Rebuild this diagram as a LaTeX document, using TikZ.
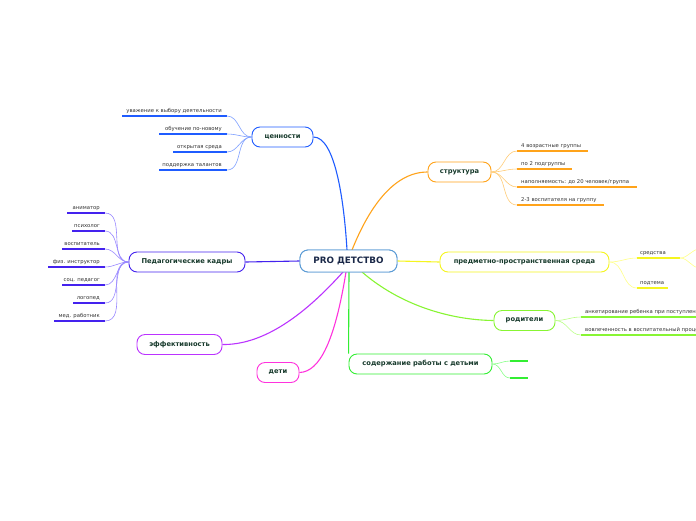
\documentclass[tikz,border=0pt]{standalone}
\usepackage{fontspec}
\setmainfont{DejaVu Sans}
\definecolor{nodetxt}{HTML}{173A2C}
\definecolor{centtxt}{HTML}{1A2848}
\definecolor{leaftxt}{HTML}{333333}
\definecolor{ccent}{HTML}{5B9BD5}
\definecolor{cval}{HTML}{1F5CFF}
\definecolor{cvalL}{HTML}{7FA0FF}
\definecolor{cstr}{HTML}{FFA31A}
\definecolor{cstrL}{HTML}{FFCC77}
\definecolor{cenv}{HTML}{F5F51F}
\definecolor{cenvL}{HTML}{FFFF88}
\definecolor{cpar}{HTML}{88F533}
\definecolor{cparL}{HTML}{BBFF88}
\definecolor{ccon}{HTML}{33EE33}
\definecolor{cconL}{HTML}{88FF88}
\definecolor{ckid}{HTML}{FF33DD}
\definecolor{ceff}{HTML}{BB33FF}
\definecolor{cped}{HTML}{4422EE}
\definecolor{cpedL}{HTML}{9988FF}
\begin{document}
\begin{tikzpicture}[x=1pt,y=-1pt,
  mainbox/.style={draw, rounded corners=8pt, line width=0.9pt, fill=white,
    font=\bfseries\fontsize{6.7}{8}\selectfont, text=nodetxt, minimum height=20pt, inner sep=0pt},
  leaftext/.style={font=\fontsize{5.3}{6}\selectfont, text=leaftxt, inner sep=0pt},
  branch/.style={line width=1.1pt},
  twig/.style={line width=0.6pt},
  uline/.style={line width=1.6pt}]
\useasboundingbox (0,0) rectangle (696,520);
\clip (0,0) rectangle (696,520);
\fill[white] (0,0) rectangle (696,520);

% main nodes
\node[mainbox, draw=ccent, text=centtxt, minimum width=97pt, minimum height=22pt,
  font=\bfseries\fontsize{8.8}{10}\selectfont] (cen) at (348.5,261) {PRO ДЕТСТВО};
\node[mainbox, draw=cval, minimum width=61pt] (val) at (282.5,137) {ценности};
\node[mainbox, draw=cstr, minimum width=63pt] (str) at (459.5,172) {структура};
\node[mainbox, draw=cenv, minimum width=169pt] (env) at (524.5,262) {предметно-пространственная среда};
\node[mainbox, draw=cpar, minimum width=61pt] (par) at (524.5,320.5) {родители};
\node[mainbox, draw=ccon, minimum width=143pt] (con) at (420.5,364) {содержание работы с детьми};
\node[mainbox, draw=ckid, minimum width=42pt] (kid) at (278,372.5) {дети};
\node[mainbox, draw=ceff, minimum width=85pt] (eff) at (179.5,344.5) {эффективность};
\node[mainbox, draw=cped, minimum width=116pt] (ped) at (187,262) {Педагогические кадры};

% main connectors
\coordinate (cvalS) at (347,250);
\coordinate (cstrS) at (352,250);
\coordinate (cparS) at (362,272);
\coordinate (cconS) at (349,272);
\coordinate (ckidS) at (346,272);
\coordinate (ceffS) at (343,272);
\draw[branch, cval] (cvalS) .. controls (344,200) and (335,137) .. (val.east);
\draw[branch, cstr] (cstrS) .. controls (370,205) and (395,172) .. (str.west);
\draw[branch, cenv] (cen.east) -- (env.west);
\draw[branch, cpar] (cparS) .. controls (400,305) and (450,320) .. (par.west);
\draw[branch, ccon] (cconS) -- (con.north west);
\draw[branch, ckid] (ckidS) .. controls (335,340) and (320,372) .. (kid.east);
\draw[branch, ceff] (ceffS) .. controls (300,320) and (260,345) .. (eff.east);
\draw[branch, cped] (cen.west) -- (ped.east);
% redraw central node on top
\node[mainbox, draw=ccent, text=centtxt, minimum width=97pt, minimum height=22pt,
  font=\bfseries\fontsize{8.8}{10}\selectfont] at (348.5,261) {PRO ДЕТСТВО};

% values leaves
\foreach \n/\xa/\y/\t in {1/122/116/уважение к выбору деятельности, 2/159/134/обучение по-новому,
   3/173/152/открытая среда, 4/159/170/поддержка талантов}{
  \coordinate (va\n) at (\xa,\y);
  \coordinate (vb\n) at (227,\y);
  \draw[uline, cval] (va\n) -- (vb\n);
  \node[leaftext, anchor=base east] (vt\n) at (222,\y-3.5) {\t};
  \draw[twig, cvalL] (val.west) to[out=180,in=0] (vb\n);
}

% pedagogues leaves
\foreach \n/\xa/\y/\t in {1/67/213/аниматор, 2/72/231/психолог, 3/62/249/воспитатель,
   4/48/267/физ. инструктор, 5/62/285/соц. педагог, 6/73/303/логопед, 7/54/321/мед. работник}{
  \coordinate (pa\n) at (\xa,\y);
  \coordinate (pb\n) at (105,\y);
  \draw[uline, cped] (pa\n) -- (pb\n);
  \node[leaftext, anchor=base east] (pt\n) at (100,\y-3.5) {\t};
  \draw[twig, cpedL] (ped.west) to[out=180,in=0] (pb\n);
}

% structure leaves
\foreach \n/\xb/\y/\t in {1/588/151/{4 возрастные группы}, 2/572/169/{по 2 подгруппы},
   3/637/187/{наполняемость: до 20 человек/группа}, 4/604/205/{2-3 воспитателя на группу}}{
  \coordinate (sa\n) at (517,\y);
  \coordinate (sb\n) at (\xb,\y);
  \draw[uline, cstr] (sa\n) -- (sb\n);
  \node[leaftext, anchor=base west] (st\n) at (521,\y-3.5) {\t};
  \draw[twig, cstrL] (str.east) to[out=0,in=180] (sa\n);
}

% environment leaves
\coordinate (ma1) at (637,258); \coordinate (mb1) at (680,258);
\coordinate (ma2) at (637,288); \coordinate (mb2) at (668,288);
\draw[uline, cenv] (ma1) -- (mb1);
\draw[uline, cenv] (ma2) -- (mb2);
\node[leaftext, anchor=base west] (mt1) at (640,254.5) {средства};
\node[leaftext, anchor=base west] (mt2) at (640,284.5) {подтема};
\draw[twig, cenvL] (env.east) to[out=0,in=180] (ma1);
\draw[twig, cenvL] (env.east) to[out=0,in=180] (ma2);
\coordinate (me1) at (700,249);
\coordinate (me2) at (700,268);
\draw[twig, cenvL] (mb1) to[out=0,in=180] (me1);
\draw[twig, cenvL] (mb1) to[out=0,in=180] (me2);

% parents leaves
\coordinate (ra1) at (581,317); \coordinate (rb1) at (760,317);
\coordinate (ra2) at (581,335); \coordinate (rb2) at (760,335);
\draw[uline, cpar] (ra1) -- (rb1);
\draw[uline, cpar] (ra2) -- (rb2);
\node[leaftext, anchor=base west] (rt1) at (585,313.5) {анкетирование ребенка при поступлении};
\node[leaftext, anchor=base west] (rt2) at (585,331.5) {вовлеченность в воспитательный процесс};
\draw[twig, cparL] (par.east) to[out=0,in=180] (ra1);
\draw[twig, cparL] (par.east) to[out=0,in=180] (ra2);

% content leaves (empty)
\coordinate (ka1) at (510,361); \coordinate (kb1) at (528,361);
\coordinate (ka2) at (510,378); \coordinate (kb2) at (528,378);
\draw[uline, ccon] (ka1) -- (kb1);
\draw[uline, ccon] (ka2) -- (kb2);
\draw[twig, cconL] (con.east) to[out=0,in=180] (ka1);
\draw[twig, cconL] (con.east) to[out=0,in=180] (ka2);
\end{tikzpicture}
\end{document}
